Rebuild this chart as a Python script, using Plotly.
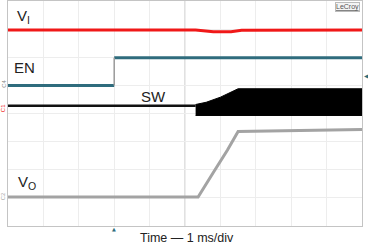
import plotly.graph_objects as go

# Time axis in divisions (10 div, 1 ms/div); vertical in divisions (8 div)
vi_x = [0, 5.3, 5.8, 6.3, 6.6, 10]
vi_y = [6.97, 6.97, 6.91, 6.91, 6.96, 6.97]

en_low_x = [0, 3.0]
en_low_y = [5.0, 5.0]
en_high_x = [3.0, 10]
en_high_y = [5.98, 5.98]
en_edge_x = [3.0, 3.0]
en_edge_y = [5.0, 5.98]

sw_x = [0, 5.3]
sw_y = [4.28, 4.28]
sw_band_x = [5.3, 5.6, 6.0, 6.5, 10]
sw_band_top = [4.32, 4.4, 4.58, 4.88, 4.88]
sw_band_bottom = [3.93, 3.93, 3.93, 3.93, 3.93]

vo_x = [0, 5.37, 5.8, 6.2, 6.5, 7.5, 10]
vo_y = [1.03, 1.03, 1.9, 2.7, 3.36, 3.38, 3.43]

labels = ["V<sub>I</sub>", "EN", "SW", "V<sub>O</sub>"]
x_title = "Time \u2014 1 ms/div"

RED = "#f01818"
TEAL = "#2f6c7d"
GRAY = "#a3a3a3"

fig = go.Figure()
fig.add_trace(go.Scatter(x=vi_x, y=vi_y, mode="lines", line=dict(color=RED, width=3)))
fig.add_trace(go.Scatter(x=en_low_x, y=en_low_y, mode="lines", line=dict(color=TEAL, width=3)))
fig.add_trace(go.Scatter(x=en_high_x, y=en_high_y, mode="lines", line=dict(color=TEAL, width=3)))
fig.add_trace(go.Scatter(x=en_edge_x, y=en_edge_y, mode="lines", line=dict(color="#9a9a9a", width=1.5)))
fig.add_trace(go.Scatter(x=sw_x, y=sw_y, mode="lines", line=dict(color="#111111", width=2.5)))
fig.add_trace(go.Scatter(x=sw_band_x, y=sw_band_bottom, mode="lines", line=dict(color="black", width=1)))
fig.add_trace(go.Scatter(x=sw_band_x, y=sw_band_top, mode="lines", fill="tonexty",
                         fillcolor="black", line=dict(color="black", width=1)))
fig.add_trace(go.Scatter(x=vo_x, y=vo_y, mode="lines", line=dict(color=GRAY, width=3)))

axis_common = dict(showgrid=True, gridcolor="#ededed", gridwidth=1, zeroline=False,
                   showticklabels=False, ticks="", showline=True, linecolor="#c4c4c4",
                   linewidth=1, mirror=True, fixedrange=True)
fig.update_xaxes(range=[0, 10], dtick=1, **axis_common)
fig.update_yaxes(range=[0, 8], dtick=1, **axis_common)

# center vertical graticule line
fig.add_shape(type="line", x0=5, x1=5, y0=0, y1=8, xref="x", yref="y",
              line=dict(color="#c2c2c2", width=1), layer="below")

lab_pos = [(0.2, 7.45), (0.12, 5.62), (3.7, 4.6), (0.22, 1.55)]
for t, (lx, ly) in zip(labels, lab_pos):
    fig.add_annotation(x=lx, y=ly, xref="x", yref="y", text=t, showarrow=False,
                       xanchor="left", yanchor="middle",
                       font=dict(family="Liberation Sans, Arial", size=15, color="#222222"))

fig.add_annotation(x=0.505, y=-0.053, xref="paper", yref="paper", text=x_title,
                   showarrow=False, xanchor="center", yanchor="middle",
                   font=dict(family="Liberation Sans, Arial", size=12.5, color="#222222"))

fig.add_annotation(x=0.995, y=0.995, xref="paper", yref="paper", text="<u>LeCroy</u>",
                   showarrow=False, xanchor="right", yanchor="top",
                   font=dict(family="Liberation Sans, Arial", size=7, color="#555555"),
                   bordercolor="#bbbbbb", borderwidth=1, borderpad=0, bgcolor="#f4f4f4")

# channel markers
for ch, yy, col in [("C4", 5.05, "#888888"), ("C1", 4.18, RED), ("C2", 1.05, "#aaaaaa")]:
    fig.add_annotation(x=-0.012, y=yy, xref="paper", yref="y", text=ch, showarrow=False,
                       textangle=-90, xanchor="center", yanchor="middle",
                       font=dict(family="Liberation Sans, Arial", size=6, color=col))

fig.add_annotation(x=1.0, y=5.35, xref="paper", yref="y", text="\u25c0", showarrow=False,
                   xanchor="left", yanchor="middle",
                   font=dict(family="DejaVu Sans", size=6, color=TEAL))
fig.add_annotation(x=3.0, y=-0.014, xref="x", yref="paper", text="\u25b2", showarrow=False,
                   xanchor="center", yanchor="middle",
                   font=dict(family="DejaVu Sans", size=5, color=TEAL))

fig.update_layout(width=368, height=246, margin=dict(l=8, r=6, t=1, b=20),
                  plot_bgcolor="white", paper_bgcolor="white", showlegend=False)

fig.write_html("out.html")
